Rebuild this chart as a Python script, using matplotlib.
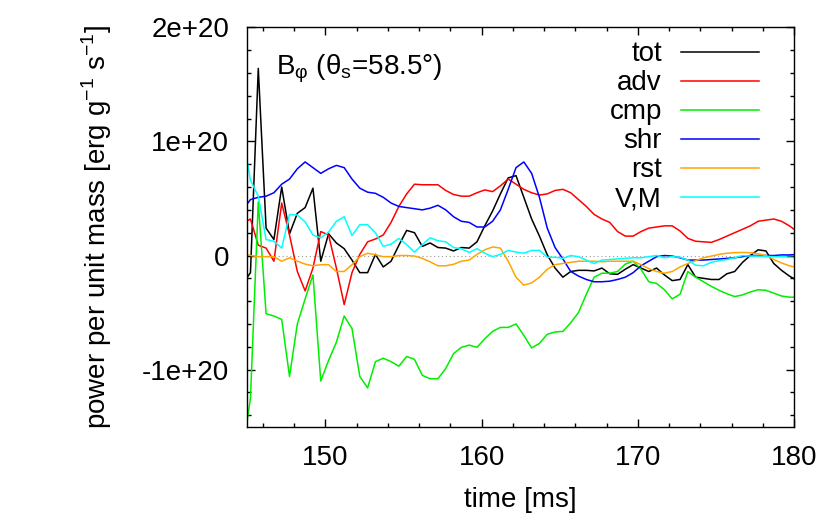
import numpy as np
import matplotlib
matplotlib.use("Agg")
import matplotlib.pyplot as plt
from matplotlib.ticker import MultipleLocator

plt.rcParams['font.family'] = ['Liberation Sans', 'DejaVu Sans']

# sample times [ms] (output every 0.5 ms)
TIME = 144.7 + 0.5 * np.arange(72)

# power per unit mass, in units of 1e20 erg/g/s
tot = [-0.25, -0.15, 1.64, 0.24, 0.14, 0.60, 0.19, 0.37, 0.42, 0.59,
       -0.05, 0.19, 0.11, 0.06, -0.04, -0.15, -0.15, 0.01, -0.10, -0.05,
       0.09, 0.22, 0.20, 0.08, 0.11, 0.07, 0.065, 0.04, 0.07, 0.065,
       0.12, 0.26, 0.39, 0.54, 0.68, 0.70, 0.51, 0.32, 0.17, 0.006,
       -0.11, -0.19, -0.14, -0.13, -0.13, -0.135, -0.11, -0.16, -0.165, -0.12,
       -0.08, -0.11, -0.14, -0.11, -0.17, -0.22, -0.21, -0.08, -0.19, -0.20,
       -0.21, -0.21, -0.16, -0.14, -0.06, 0.0, 0.05, 0.04, -0.07, -0.13,
       -0.18, -0.22]
adv = [0.28, 0.32, 0.09, 0.065, -0.05, 0.46, 0.18, -0.14, -0.31, -0.11,
       0.21, 0.18, -0.11, -0.43, -0.15, 0.01, 0.12, 0.145, 0.18, 0.29,
       0.43, 0.54, 0.625, 0.62, 0.62, 0.62, 0.57, 0.535, 0.52, 0.52,
       0.55, 0.575, 0.56, 0.61, 0.67, 0.625, 0.58, 0.55, 0.53, 0.54,
       0.57, 0.58, 0.55, 0.49, 0.43, 0.36, 0.32, 0.29, 0.21, 0.17,
       0.17, 0.21, 0.24, 0.25, 0.26, 0.26, 0.215, 0.15, 0.125, 0.12,
       0.115, 0.14, 0.17, 0.20, 0.23, 0.26, 0.30, 0.31, 0.32, 0.30,
       0.26, 0.21]
cmp_ = [-1.72, -1.25, 0.47, -0.51, -0.53, -0.56, -1.06, -0.60, -0.38, -0.17,
        -1.10, -0.92, -0.76, -0.53, -0.64, -1.06, -1.16, -0.93, -0.90, -0.93,
        -0.97, -0.885, -0.91, -1.05, -1.08, -1.08, -0.99, -0.86, -0.805, -0.785,
        -0.805, -0.73, -0.665, -0.63, -0.63, -0.60, -0.70, -0.81, -0.77, -0.69,
        -0.67, -0.665, -0.59, -0.50, -0.34, -0.19, -0.155, -0.155, -0.14, -0.075,
        -0.05, -0.12, -0.23, -0.245, -0.30, -0.38, -0.34, -0.14, -0.19, -0.23,
        -0.27, -0.305, -0.335, -0.36, -0.345, -0.32, -0.30, -0.305, -0.33, -0.355,
        -0.365, -0.365]
shr = [0.40, 0.49, 0.51, 0.52, 0.55, 0.625, 0.67, 0.76, 0.82, 0.77,
       0.72, 0.76, 0.79, 0.77, 0.67, 0.59, 0.555, 0.545, 0.51, 0.46,
       0.43, 0.42, 0.41, 0.40, 0.415, 0.44, 0.40, 0.34, 0.30, 0.29,
       0.25, 0.25, 0.30, 0.40, 0.58, 0.77, 0.82, 0.72, 0.51, 0.24,
       0.07, -0.03, -0.14, -0.18, -0.21, -0.23, -0.23, -0.225, -0.21, -0.19,
       -0.15, -0.09, -0.05, -0.01, 0.0, -0.005, -0.02, -0.04, -0.04, -0.04,
       -0.035, -0.03, -0.025, -0.02, -0.01, 0.0, 0.0, 0.0, 0.0, 0.005,
       0.005, 0.01]
rst = [0.02, 0.0, -0.01, -0.01, -0.01, -0.05, -0.02, -0.05, -0.075, -0.09,
       -0.08, -0.08, -0.14, -0.14, -0.08, -0.01, 0.02, 0.006, -0.01, -0.01,
       0.0, 0.0, -0.005, -0.025, -0.055, -0.09, -0.09, -0.077, -0.05, -0.04,
       0.01, 0.05, 0.075, 0.065, -0.05, -0.19, -0.26, -0.24, -0.19, -0.12,
       -0.08, -0.07, -0.06, -0.05, -0.05, -0.05, -0.055, -0.05, -0.05, -0.05,
       -0.05, -0.08, -0.115, -0.14, -0.155, -0.14, -0.10, -0.07, -0.045, -0.02,
       -0.005, 0.01, 0.02, 0.025, 0.027, 0.025, 0.015, 0.0, -0.035, -0.065,
       -0.09, -0.105]
vm = [1.05, 0.66, 0.52, 0.14, 0.125, 0.065, 0.36, 0.355, 0.295, 0.18,
      0.155, 0.205, 0.30, 0.34, 0.175, 0.27, 0.27, 0.20, 0.08, 0.10,
      0.15, 0.095, 0.03, 0.095, 0.155, 0.13, 0.12, 0.07, 0.06, 0.027,
      0.06, 0.02, -0.01, 0.01, 0.045, 0.03, 0.02, 0.045, 0.045, -0.015,
      -0.015, -0.025, 0.0, -0.01, -0.04, -0.07, -0.04, -0.035, -0.03, -0.025,
      -0.02, -0.02, -0.01, 0.0, -0.02, -0.01, -0.015, -0.04, -0.085, -0.09,
      -0.06, -0.045, -0.035, -0.02, 0.0, -0.005, -0.005, -0.008, -0.01, -0.01,
      -0.015, -0.02]

LABELS = ["tot", "adv", "cmp", "shr", "rst", "V,M"]
COLORS = ["black", "#ff0000", "#00ee00", "#0000ff", "#ffa500", "#00ffff"]
YTICKS = [-1e20, 0, 1e20, 2e20]
YTICK_LABELS = ["-1e+20", "0", "1e+20", "2e+20"]
XTICKS = [150, 160, 170, 180]

fig = plt.figure(figsize=(8.3, 5.15), dpi=100)
ax = fig.add_axes([0.298, 0.1715, 0.6587, 0.7755])

ax.axhline(0, color="#999999", lw=0.8, ls=(0, (1, 2.5)), zorder=1)
for series, label, color in zip([tot, adv, cmp_, shr, rst, vm], LABELS, COLORS):
    ax.plot(TIME, np.array(series) * 1e20, color=color, lw=1.1, label=label)

ax.set_xlim(145, 180)
ax.set_ylim(-1.5e20, 2e20)
ax.set_xticks(XTICKS)
ax.set_yticks(YTICKS, labels=YTICK_LABELS)
ax.xaxis.set_minor_locator(MultipleLocator(2))
ax.yaxis.set_minor_locator(MultipleLocator(0.2e20))
ax.tick_params(which="both", direction="in", top=True, right=True, width=1.0,
               labelsize=20, color="black")
ax.tick_params(which="major", length=6, pad=13)
ax.tick_params(which="minor", length=3)
for sp in ax.spines.values():
    sp.set_linewidth(1.0)

ax.set_xlabel("time [ms]", fontsize=20, labelpad=12)
ax.set_ylabel(r"power per unit mass [erg g$^{\mathregular{-1}}$ s$^{\mathregular{-1}}$]",
              fontsize=20, labelpad=20)

ax.text(0.0525, 0.883, r"B$_{\mathregular{φ}}$ (θ$_{\mathregular{s}}$=58.5°)",
        transform=ax.transAxes, fontsize=20, va="baseline", ha="left")

leg = ax.legend(loc="upper right", bbox_to_anchor=(0.936, 0.965), frameon=False,
                markerfirst=False, handlelength=2.8, handletextpad=0.7,
                labelspacing=0.11, borderpad=0, borderaxespad=0, fontsize=20)
# right-align labels next to their samples, gnuplot style
leg._legend_handle_box.get_children()[0].align = "right"

fig.savefig("out.png", dpi=100)
